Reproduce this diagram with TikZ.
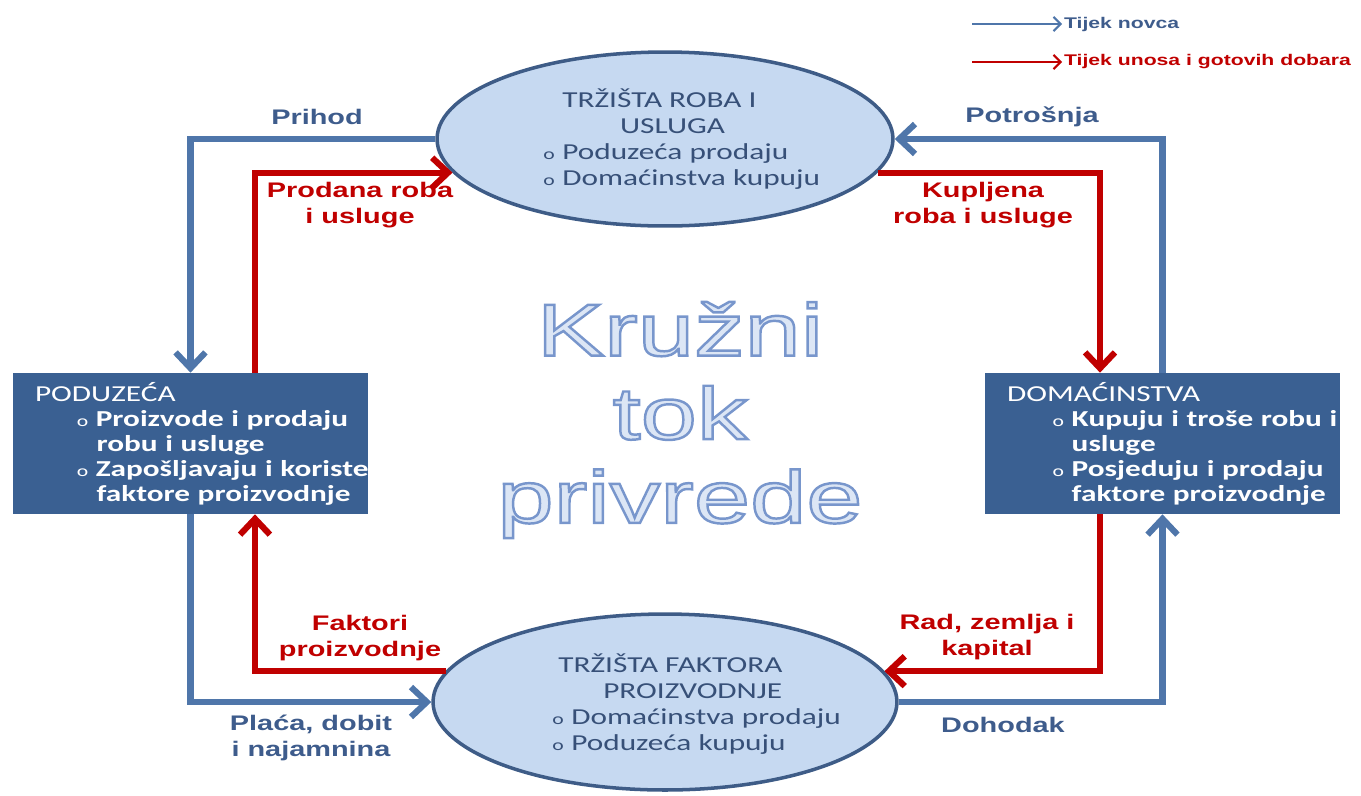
\documentclass[tikz,border=0pt]{standalone}
\usepackage{fontspec}
\setmainfont{Liberation Sans}[FakeStretch=1.37]
\newfontfamily\cali{Carlito}[FakeStretch=1.37]
\usetikzlibrary{positioning, arrows.meta, shapes.geometric}

\definecolor{boxblue}{RGB}{58,96,146}
\definecolor{ovalfill}{RGB}{198,217,241}
\definecolor{ovalline}{RGB}{62,92,135}
\definecolor{moneyblue}{RGB}{79,118,170}
\definecolor{moneytext}{RGB}{62,92,140}
\definecolor{goodsred}{RGB}{192,0,0}
\definecolor{ovaltext}{RGB}{55,80,120}
\definecolor{titlefill}{RGB}{220,230,245}

\newcommand{\bul}{\makebox[10.8pt][l]{\fontsize{9}{9}\selectfont\mdseries o}}
% outlined letters: fill with text colour, stroke in mid blue
\newcommand{\outl}[1]{\special{pdf:code q 2 Tr 1.4 w 0.47 0.59 0.80 RG}#1\special{pdf:code Q}}

\tikzstyle{market}=[ellipse, draw=ovalline, fill=ovalfill, line width=2pt,
                    minimum width=9.12cm, minimum height=3.48cm, inner sep=0pt]
\tikzstyle{firm}=[rectangle, fill=boxblue, minimum width=7.1cm, minimum height=2.82cm,
                  text width=6.22cm, inner xsep=0.44cm, align=left, text=white,
                  % box text
                  font=\cali\fontsize{13}{14.2}\selectfont]
\tikzstyle{ovaltxt}=[align=left, inner sep=0pt, text=ovaltext,
                     font=\cali\fontsize{13}{14.7}\selectfont]
\tikzstyle{money}=[draw=moneyblue, line width=3.5pt, -{Straight Barb[length=9pt,width=17pt]}]
\tikzstyle{supply}=[draw=goodsred, line width=3.5pt, -{Straight Barb[length=9pt,width=17pt]}]
\tikzstyle{flowlbl}=[align=center, inner sep=1pt, font=\bfseries\fontsize{12}{14.7}\selectfont]
\tikzstyle{legtxt}=[inner sep=1pt, anchor=west, font=\bfseries\fontsize{8.8}{10}\selectfont]

\begin{document}
\begin{tikzpicture}[x=0.02cm, y=-0.02cm]
  \useasboundingbox (0,0) rectangle (1361,795);

  % Markets
  \node[market] (gmarket) at (665,139) {};
  \node[market, minimum width=9.28cm, minimum height=3.52cm] (fmarket) at (665,702) {};
  \node[ovaltxt, anchor=west] (gtext) at (543,139)
    {\hspace*{10.8pt}TRŽIŠTA ROBA I\\ \hspace*{43.7pt}USLUGA\\
     \bul Poduzeća prodaju\\ \bul Domaćinstva kupuju};
  \node[ovaltxt, anchor=west] (ftext) at (552,704)
    {\hspace*{3.4pt}TRŽIŠTA FAKTORA\\ \hspace*{29pt}PROIZVODNJE\\
     \bul Domaćinstva prodaju\\ \bul Poduzeća kupuju};

  % Firms and households
  \node[firm] (firms) at (190.5,443.5)
    {\mbox{PODUZEĆA}\\
     \mbox{\hspace*{23.8pt}\bul\textbf{Proizvode i prodaju}}\\
     \mbox{\hspace*{35pt}\textbf{robu i usluge}}\\
     \mbox{\hspace*{23.8pt}\bul\textbf{Zapošljavaju i koriste}}\\
     \mbox{\hspace*{35pt}\textbf{faktore proizvodnje}}};
  \node[firm] (homes) at (1162.5,443.5)
    {\mbox{DOMAĆINSTVA}\\
     \mbox{\hspace*{26pt}\bul\textbf{Kupuju i troše robu i}}\\
     \mbox{\hspace*{36.8pt}\textbf{usluge}}\\
     \mbox{\hspace*{26pt}\bul\textbf{Posjeduju i prodaju}}\\
     \mbox{\hspace*{36.8pt}\textbf{faktore proizvodnje}}};

  % Money flows
  \draw[money] (gmarket.west) -| (firms.north);
  \draw[money] (homes.north) |- (gmarket.east);
  \draw[money] (firms.south) |- (fmarket.west);
  \draw[money] (fmarket.east) -| (homes.south);

  % Goods and factor flows
  \draw[supply] ([xshift=1.29cm]firms.north) |- (gmarket.189);
  \draw[supply] (gmarket.-9) -| ([xshift=-1.25cm]homes.north);
  \draw[supply] ([xshift=-1.25cm]homes.south) |- (fmarket.8);
  \draw[supply] (fmarket.172) -| ([xshift=1.29cm]firms.south);

  % Flow labels
  \node[flowlbl, text=moneytext] (prihod) at (317,117) {Prihod};
  \node[flowlbl, text=moneytext] (potrosnja) at (1032,117) {Potrošnja};
  \node[flowlbl, text=goodsred] (prodana) at (360,205) {Prodana roba\\i usluge};
  \node[flowlbl, text=goodsred] (kupljena) at (983,205) {Kupljena\\roba i usluge};
  \node[flowlbl, text=goodsred] (faktori) at (360,638) {Faktori\\proizvodnje};
  \node[flowlbl, text=goodsred] (rad) at (987,637) {Rad, zemlja i\\kapital};
  \node[flowlbl, text=moneytext] (placa) at (311,738) {Plaća, dobit\\i najamnina};
  \node[flowlbl, text=moneytext] (dohodak) at (1003,725) {Dohodak};

  % Title
  \node[align=center, text=titlefill, font=\fontsize{42}{47.6}\selectfont] (title) at (680,420)
    {\outl{Kružni}\\ \outl{tok}\\ \outl{privrede}};

  % Legend
  \coordinate (mstart) at (972,24);
  \coordinate (gstart) at (972,62);
  \node[legtxt, text=moneytext] (mkey) at (1062,24) {Tijek novca};
  \node[legtxt, text=goodsred] (gkey) at (1062,62) {Tijek unosa i gotovih dobara};
  \draw[draw=moneyblue, line width=1.2pt, -{Straight Barb[length=4pt,width=8pt]}] (mstart) -- (mkey.west);
  \draw[draw=goodsred, line width=1.2pt, -{Straight Barb[length=4pt,width=8pt]}] (gstart) -- (gkey.west);
\end{tikzpicture}
\end{document}
